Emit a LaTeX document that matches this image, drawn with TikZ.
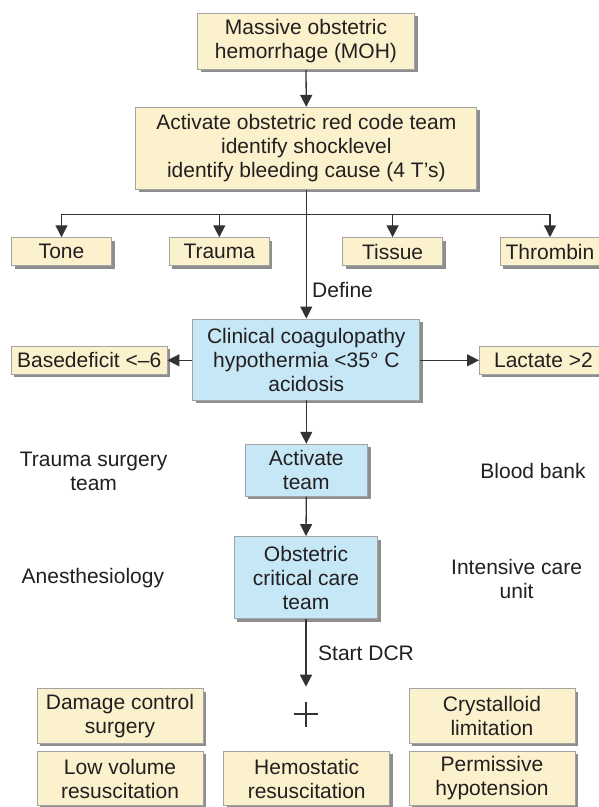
\documentclass[tikz,border=0pt]{standalone}
\usepackage{fontspec}
\setmainfont{Liberation Sans}
\usetikzlibrary{arrows.meta,shadows}
\definecolor{boxyellow}{HTML}{FCF1CD}
\definecolor{boxblue}{HTML}{C6E7F6}
\definecolor{boxborder}{HTML}{A3A3A3}
\definecolor{shadowgray}{HTML}{8E8E8E}
\definecolor{linegray}{HTML}{333333}
\definecolor{textgray}{HTML}{231F20}
\tikzset{
  basebox/.style={draw=boxborder, line width=0.9pt, inner sep=0pt, align=center,
    text=textgray, font=\fontsize{21}{24}\selectfont,
    drop shadow={shadow xshift=3pt, shadow yshift=-3pt, fill=shadowgray, opacity=1}},
  ybox/.style={basebox, fill=boxyellow},
  bbox/.style={basebox, fill=boxblue},
  plain/.style={align=center, text=textgray, font=\fontsize{21}{24}\selectfont, inner sep=0pt},
  conn/.style={draw=linegray, line width=1.3pt},
  arr/.style={conn, -{Triangle[width=12pt,length=12pt]}, shorten >=0pt},
}
\begin{document}
\begin{tikzpicture}[x=1pt,y=-1pt]
\clip (0,0) rectangle (599,807);
\useasboundingbox (0,0) rectangle (599,807);
\fill[white] (0,0) rectangle (599,807);

% top
\node[ybox, minimum width=217pt, minimum height=56pt] (moh) at (306,41.3) {Massive obstetric\\hemorrhage (MOH)};
\node[ybox, minimum width=341pt, minimum height=82pt] (act) at (306.3,148.3) {Activate obstetric red code team\\identify shocklevel\\identify bleeding cause (4 T's)};
\draw[arr] (moh.south) -- (act.north);

% 4 T's
\node[ybox, minimum width=100pt, minimum height=28pt] (tone) at (61.5,251.7) {Tone};
\node[ybox, minimum width=100pt, minimum height=28pt] (trauma) at (219.3,251.7) {Trauma};
\node[ybox, minimum width=100pt, minimum height=28pt] (tissue) at (392.6,251.7) {Tissue};
\node[ybox, minimum width=100pt, minimum height=28pt] (thrombin) at (550,251.7) {Thrombin};

\coordinate (jl) at (61.5,214.3);
\coordinate (jr) at (550,214.3);
\coordinate (j2) at (219.3,214.3);
\coordinate (j3) at (392.6,214.3);
\draw[conn] (jl) -- (jr);
\draw[arr] (jl) -- (tone.north);
\draw[arr] (j2) -- (trauma.north);
\draw[arr] (j3) -- (tissue.north);
\draw[arr] (jr) -- (thrombin.north);

% define
\node[bbox, minimum width=227pt, minimum height=81pt] (coag) at (306.3,359.5) {Clinical coagulopathy\\hypothermia <35° C\\acidosis};
\draw[arr] (act.south) -- (coag.north);
\node[plain, anchor=west] (define) at (312,290) {Define};

\node[ybox, minimum width=155.5pt, minimum height=28pt] (base) at (89.2,360.3) {Basedeficit <–6};
\node[ybox, minimum width=128pt, minimum height=28pt, anchor=west] (lact) at (479,360.3) {Lactate >2};
\draw[arr] (coag.west |- base.east) -- (base.east);
\draw[arr] (coag.east |- lact.west) -- (lact.west);

% teams
\node[bbox, minimum width=122.6pt, minimum height=52pt] (actteam) at (306.3,470.2) {Activate\\team};
\draw[arr] (coag.south) -- (actteam.north);
\node[bbox, minimum width=143.5pt, minimum height=82pt] (occ) at (306,577.5) {Obstetric\\critical care\\team};
\draw[arr] (actteam.south) -- (occ.north);

\node[plain] (tst) at (93.6,471.5) {Trauma surgery\\team};
\node[plain] (bb) at (533,471) {Blood bank};
\node[plain] (anes) at (92.9,578) {Anesthesiology};
\node[plain] (icu) at (516.6,579) {Intensive care\\unit};

% DCR
\coordinate (dcrend) at (306,686.7);
\draw[arr] (occ.south) -- (dcrend);
\node[plain, anchor=west] (dcr) at (318,653.3) {Start DCR};

\coordinate (plusc) at (306,714);
\draw[conn, line width=2pt] ([xshift=-12pt]plusc) -- ([xshift=12pt]plusc);
\draw[conn, line width=2pt] ([yshift=-12.5pt]plusc) -- ([yshift=12.5pt]plusc);

% bottom boxes
\node[ybox, minimum width=166pt, minimum height=54.5pt] (dcs) at (120,716) {Damage control\\surgery};
\node[ybox, minimum width=166pt, minimum height=54.5pt] (cryst) at (492,716) {Crystalloid\\limitation};
\node[ybox, minimum width=166pt, minimum height=54.5pt] (lowvol) at (120,778.5) {Low volume\\resuscitation};
\node[ybox, minimum width=166pt, minimum height=54.5pt] (hemo) at (306.7,778.5) {Hemostatic\\resuscitation};
\node[ybox, minimum width=166pt, minimum height=54.5pt] (perm) at (492,778.5) {Permissive\\hypotension};
\end{tikzpicture}
\end{document}
